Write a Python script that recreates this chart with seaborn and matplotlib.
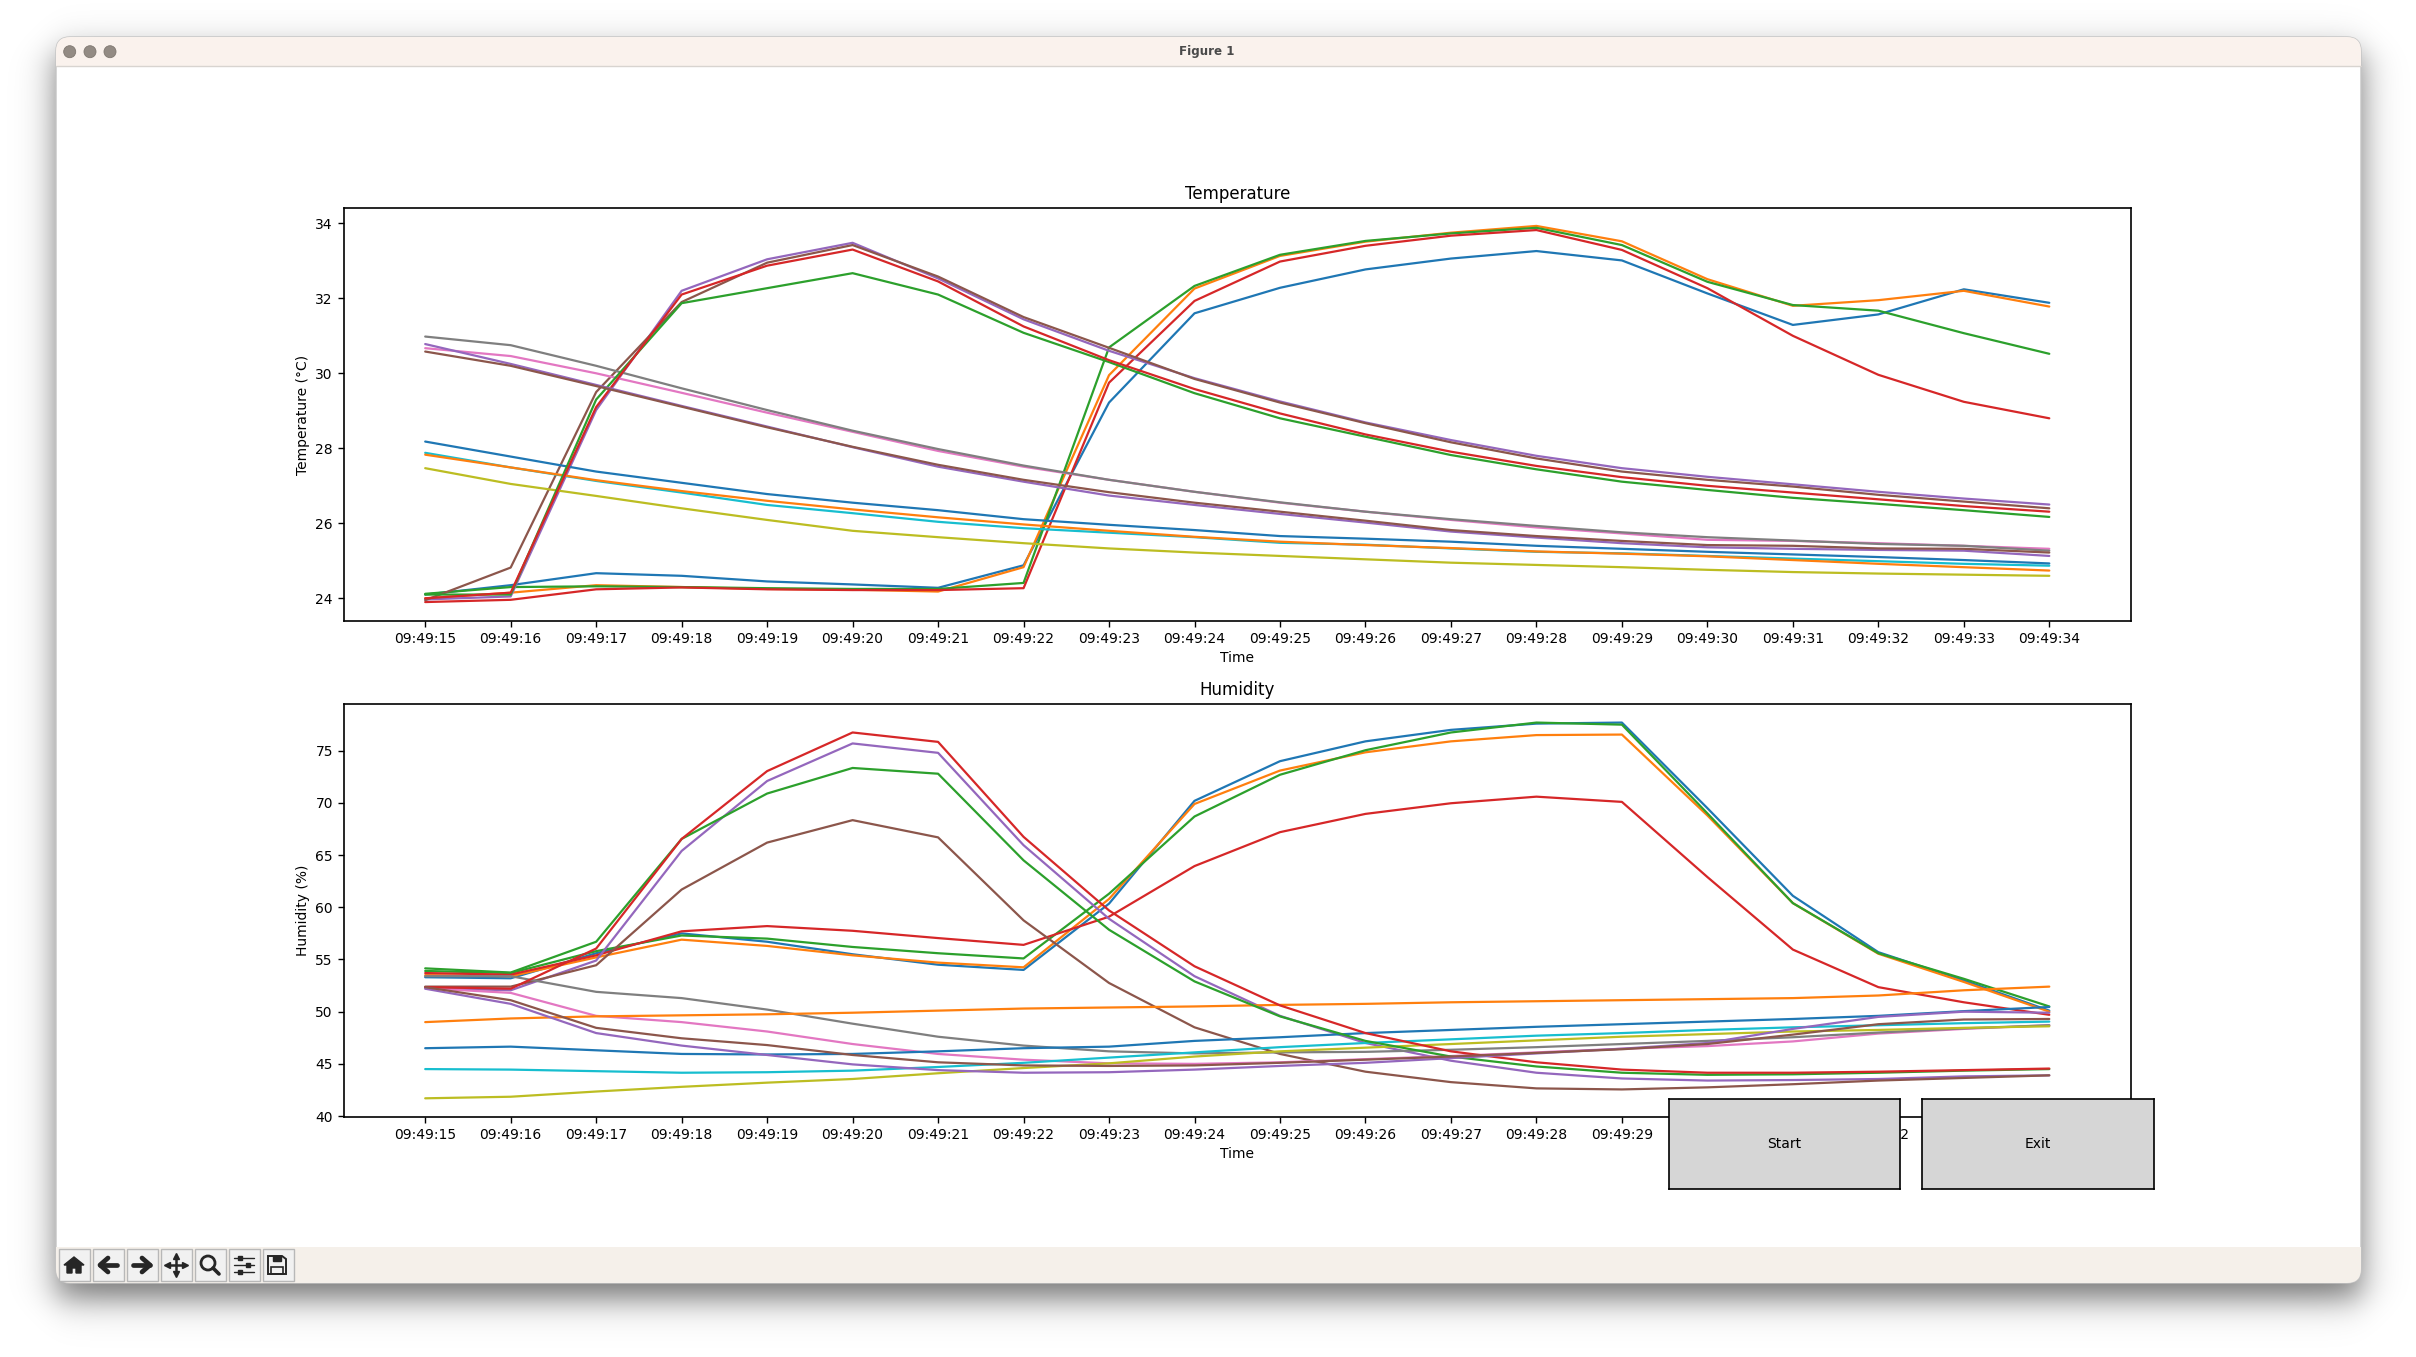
import numpy as np
import matplotlib
matplotlib.use("Agg")
import matplotlib.pyplot as plt
import seaborn as sns
from matplotlib.patches import Circle, FancyBboxPatch, Polygon, Rectangle

W, H = 2416, 1357

times = [f"09:49:{s}" for s in range(15, 35)]

# temperature, in draw order
temp_blue_late = [24.10, 24.35, 24.67, 24.60, 24.45, 24.37, 24.28, 24.88, 29.22, 31.60, 32.28, 32.77, 33.06, 33.26, 33.01, 32.13, 31.29, 31.57, 32.24, 31.88]
temp_orange_late = [24.00, 24.15, 24.35, 24.30, 24.25, 24.23, 24.18, 24.83, 29.95, 32.26, 33.13, 33.51, 33.75, 33.93, 33.52, 32.51, 31.80, 31.95, 32.20, 31.78]
temp_green_late = [24.12, 24.30, 24.32, 24.30, 24.27, 24.25, 24.25, 24.41, 30.69, 32.33, 33.16, 33.53, 33.73, 33.88, 33.42, 32.44, 31.82, 31.67, 31.07, 30.52]
temp_red_late = [23.90, 23.96, 24.24, 24.29, 24.24, 24.22, 24.22, 24.27, 29.75, 31.93, 32.98, 33.40, 33.67, 33.82, 33.29, 32.27, 31.00, 29.96, 29.24, 28.80]
temp_purple_early = [23.97, 24.05, 29.02, 32.20, 33.04, 33.48, 32.53, 31.44, 30.60, 29.87, 29.25, 28.69, 28.22, 27.80, 27.47, 27.24, 27.04, 26.84, 26.66, 26.50]
temp_brown_early = [23.95, 24.82, 29.50, 31.90, 32.95, 33.42, 32.58, 31.50, 30.68, 29.85, 29.22, 28.67, 28.16, 27.73, 27.38, 27.16, 26.98, 26.76, 26.58, 26.40]
temp_pink = [30.67, 30.46, 30.00, 29.48, 28.95, 28.44, 27.93, 27.51, 27.16, 26.84, 26.55, 26.31, 26.09, 25.89, 25.73, 25.56, 25.53, 25.47, 25.40, 25.32]
temp_gray = [30.98, 30.75, 30.20, 29.60, 29.02, 28.47, 27.98, 27.54, 27.16, 26.84, 26.56, 26.31, 26.11, 25.93, 25.76, 25.63, 25.54, 25.45, 25.40, 25.27]
temp_olive = [27.47, 27.05, 26.73, 26.40, 26.09, 25.80, 25.63, 25.47, 25.33, 25.22, 25.13, 25.04, 24.95, 24.89, 24.83, 24.76, 24.70, 24.66, 24.63, 24.60]
temp_cyan = [27.88, 27.49, 27.13, 26.82, 26.49, 26.27, 26.04, 25.87, 25.75, 25.63, 25.48, 25.43, 25.33, 25.24, 25.20, 25.13, 25.06, 24.99, 24.92, 24.87]
temp_blue_fall = [28.18, 27.78, 27.38, 27.08, 26.78, 26.55, 26.35, 26.11, 25.96, 25.82, 25.66, 25.59, 25.51, 25.40, 25.32, 25.24, 25.17, 25.10, 25.02, 24.93]
temp_orange_fall = [27.83, 27.49, 27.15, 26.86, 26.60, 26.37, 26.16, 25.97, 25.80, 25.64, 25.51, 25.42, 25.34, 25.25, 25.19, 25.12, 25.02, 24.92, 24.83, 24.74]
temp_green_early = [24.10, 24.10, 29.30, 31.87, 32.27, 32.67, 32.10, 31.08, 30.30, 29.47, 28.80, 28.31, 27.82, 27.44, 27.11, 26.89, 26.68, 26.52, 26.35, 26.17]
temp_red_early = [24.00, 24.15, 29.10, 32.10, 32.87, 33.30, 32.45, 31.25, 30.35, 29.58, 28.93, 28.37, 27.91, 27.53, 27.23, 27.00, 26.82, 26.64, 26.46, 26.31]
temp_purple_fall = [30.78, 30.25, 29.69, 29.13, 28.58, 28.03, 27.51, 27.11, 26.74, 26.49, 26.25, 26.02, 25.78, 25.62, 25.47, 25.36, 25.32, 25.29, 25.27, 25.13]
temp_brown_fall = [30.58, 30.20, 29.66, 29.11, 28.56, 28.04, 27.56, 27.16, 26.83, 26.55, 26.31, 26.07, 25.82, 25.66, 25.53, 25.42, 25.40, 25.33, 25.32, 25.22]

# humidity, in draw order
hum_blue_late = [53.3, 53.2, 55.6, 57.5, 56.7, 55.5, 54.5, 54.0, 60.35, 70.2, 74.0, 75.9, 77.0, 77.6, 77.7, 69.5, 61.1, 55.7, 53.0, 50.1]
hum_orange_late = [53.5, 53.4, 55.2, 56.9, 56.3, 55.4, 54.7, 54.25, 60.8, 69.9, 73.1, 74.85, 75.9, 76.5, 76.55, 68.8, 60.4, 55.55, 52.85, 50.0]
hum_green_late = [53.9, 53.7, 55.8, 57.3, 57.0, 56.2, 55.6, 55.1, 61.3, 68.7, 72.7, 75.05, 76.75, 77.7, 77.5, 69.0, 60.4, 55.6, 53.15, 50.5]
hum_red_late = [53.7, 53.55, 55.4, 57.7, 58.2, 57.75, 57.05, 56.4, 59.1, 63.95, 67.2, 68.95, 69.97, 70.6, 70.1, 62.9, 55.95, 52.35, 50.9, 49.7]
hum_purple_early = [52.25, 52.05, 54.9, 65.4, 72.1, 75.7, 74.8, 65.95, 58.9, 53.4, 49.6, 47.0, 45.3, 44.15, 43.6, 43.4, 43.45, 43.55, 43.8, 43.9]
hum_brown_early = [52.4, 52.4, 54.45, 61.7, 66.2, 68.35, 66.7, 58.75, 52.75, 48.5, 45.95, 44.25, 43.25, 42.65, 42.55, 42.75, 43.05, 43.4, 43.65, 43.9]
hum_pink = [52.25, 51.8, 49.6, 49.0, 48.1, 46.9, 45.95, 45.4, 45.05, 45.0, 45.15, 45.45, 45.75, 46.1, 46.45, 46.7, 47.15, 47.9, 48.35, 48.7]
hum_gray = [53.4, 53.4, 51.9, 51.3, 50.2, 48.85, 47.6, 46.75, 46.2, 46.0, 46.1, 46.15, 46.35, 46.6, 46.9, 47.2, 47.55, 48.0, 48.4, 48.7]
hum_olive = [41.7, 41.85, 42.35, 42.8, 43.2, 43.55, 44.1, 44.6, 45.05, 45.7, 46.2, 46.55, 46.9, 47.25, 47.6, 47.85, 48.1, 48.25, 48.45, 48.6]
hum_cyan = [44.5, 44.45, 44.3, 44.15, 44.2, 44.35, 44.7, 45.1, 45.6, 46.1, 46.6, 47.0, 47.35, 47.7, 47.95, 48.25, 48.5, 48.7, 48.9, 49.05]
hum_blue_flat = [46.5, 46.65, 46.3, 45.95, 45.9, 45.95, 46.2, 46.5, 46.65, 47.2, 47.55, 47.95, 48.25, 48.55, 48.8, 49.05, 49.3, 49.6, 50.05, 50.45]
hum_orange_flat = [49.0, 49.35, 49.55, 49.65, 49.75, 49.9, 50.1, 50.3, 50.4, 50.5, 50.65, 50.75, 50.9, 51.0, 51.1, 51.2, 51.3, 51.55, 52.05, 52.4]
hum_green_early = [54.15, 53.75, 56.7, 66.55, 70.9, 73.35, 72.8, 64.5, 57.85, 52.9, 49.55, 47.2, 45.7, 44.75, 44.15, 43.95, 44.0, 44.15, 44.35, 44.5]
hum_red_early = [52.35, 52.2, 56.05, 66.55, 73.05, 76.75, 75.85, 66.75, 59.7, 54.35, 50.6, 47.95, 46.2, 45.15, 44.45, 44.15, 44.15, 44.25, 44.4, 44.55]
hum_purple_fall = [52.2, 50.75, 47.95, 46.75, 45.85, 44.95, 44.4, 44.15, 44.2, 44.45, 44.8, 45.1, 45.55, 46.0, 46.45, 47.0, 48.35, 49.5, 50.0, 49.9]
hum_brown_fall = [52.35, 51.1, 48.45, 47.45, 46.8, 45.85, 45.15, 44.85, 44.8, 44.85, 45.1, 45.4, 45.7, 46.05, 46.4, 46.9, 47.8, 48.8, 49.25, 49.3]

temp_series = [temp_blue_late, temp_orange_late, temp_green_late, temp_red_late,
               temp_purple_early, temp_brown_early, temp_pink, temp_gray, temp_olive, temp_cyan,
               temp_blue_fall, temp_orange_fall, temp_green_early, temp_red_early,
               temp_purple_fall, temp_brown_fall]
hum_series = [hum_blue_late, hum_orange_late, hum_green_late, hum_red_late,
              hum_purple_early, hum_brown_early, hum_pink, hum_gray, hum_olive, hum_cyan,
              hum_blue_flat, hum_orange_flat, hum_green_early, hum_red_early,
              hum_purple_fall, hum_brown_fall]

sns.set_theme(style="ticks", rc={"axes.linewidth": 1.2, "xtick.major.width": 1.0, "ytick.major.width": 1.0,
                                 "xtick.major.size": 4.5, "ytick.major.size": 4.5})
plt.rcParams["font.family"] = ["DejaVu Sans"]
plt.rcParams["text.color"] = "black"
plt.rcParams["axes.labelcolor"] = "black"
plt.rcParams["xtick.color"] = "black"
plt.rcParams["ytick.color"] = "black"
plt.rcParams["axes.edgecolor"] = "black"

palette = sns.color_palette("tab10")
fig = plt.figure(figsize=(W / 100, H / 100), dpi=100, facecolor="white")


def pixel_axes(x0, y0, x1, y1, **kw):
    return fig.add_axes([x0 / W, 1 - y1 / H, (x1 - x0) / W, (y1 - y0) / H], **kw)


# window chrome, in pixel coordinates
chrome = pixel_axes(0, 0, W, H, zorder=-1)
chrome.set_xlim(0, W)
chrome.set_ylim(H, 0)
chrome.axis("off")

win_l, win_r, win_t, win_b = 56, 2361, 37, 1283


def soft(d):
    return 0.5 * (1 + np.tanh(d / 20))


gx, gy = np.meshgrid(np.arange(W), np.arange(H))
shadow = 0.55 * soft(gx - win_l) * soft(win_r - gx) * soft(gy - win_t - 15) * soft(win_b + 15 - gy)
shadow_rgba = np.zeros((H, W, 4))
shadow_rgba[..., 3] = shadow
chrome.imshow(shadow_rgba, extent=[0, W, H, 0], aspect="auto", zorder=0)
chrome.set_xlim(0, W)
chrome.set_ylim(H, 0)

window = FancyBboxPatch((win_l, win_t), win_r - win_l, win_b - win_t,
                        boxstyle="round,pad=0,rounding_size=14", fc="white", ec="#c4c4c4", lw=1, zorder=1)
chrome.add_patch(window)
titlebar = Rectangle((win_l, win_t), win_r - win_l, 29, fc="#faf2ed", ec="none", zorder=2)
toolbar = Rectangle((win_l, 1247), win_r - win_l, 36, fc="#f5f0ea", ec="none", zorder=2)
for band in (titlebar, toolbar):
    chrome.add_patch(band)
    band.set_clip_path(window)
chrome.plot([win_l, win_r], [66, 66], color="#d8d4d0", lw=1, zorder=3)
for cx in (69.7, 90, 110):
    chrome.add_patch(Circle((cx, 51.7), 6, fc="#938b84", ec="#7f7871", lw=0.6, zorder=3))
chrome.text(1207, 52, "Figure 1", ha="center", va="center", fontsize=8.6, fontweight="bold", color="#4a4a4a", zorder=3)

ink = "#262626"
for i in range(7):
    bx = 74 + 34 * i
    chrome.add_patch(Rectangle((bx - 15.5, 1249), 31, 31.5, fc="#f1f1f1", ec="#b8b8b8", lw=1, zorder=3))
by = 1265
# home
chrome.add_patch(Polygon([(74 - 10, by), (74, by - 8), (74 + 10, by), (74 + 7, by), (74 + 7, by + 8), (74 + 2, by + 8),
                          (74 + 2, by + 3), (74 - 2, by + 3), (74 - 2, by + 8), (74 - 7, by + 8), (74 - 7, by)],
                         fc=ink, ec=ink, zorder=4))
# back and forward
chrome.plot([108 - 8, 108 + 9], [by, by], color=ink, lw=3.4, zorder=4, solid_capstyle="round")
chrome.plot([108, 108 - 8, 108], [by - 7, by, by + 7], color=ink, lw=3.4, zorder=4)
chrome.plot([142 - 9, 142 + 8], [by, by], color=ink, lw=3.4, zorder=4, solid_capstyle="round")
chrome.plot([142, 142 + 8, 142], [by - 7, by, by + 7], color=ink, lw=3.4, zorder=4)
# move
chrome.plot([176 - 9, 176 + 9], [by, by], color=ink, lw=1.8, zorder=4)
chrome.plot([176, 176], [by - 9, by + 9], color=ink, lw=1.8, zorder=4)
for dx, dy, marker in ((-9, 0, "<"), (9, 0, ">"), (0, -9, "^"), (0, 9, "v")):
    chrome.plot([176 + dx], [by + dy], marker=marker, ms=5, color=ink, zorder=4)
# zoom
chrome.add_patch(Circle((208, by - 2), 7, fc="none", ec=ink, lw=2, zorder=4))
chrome.plot([213, 219], [by + 3, by + 9], color=ink, lw=2.6, zorder=4)
# sliders
for dy, dx in ((-7, -4), (0, 4), (7, -4)):
    chrome.plot([244 - 10, 244 + 10], [by + dy, by + dy], color=ink, lw=1, zorder=4)
    chrome.plot([244 + dx], [by + dy], marker="s", ms=3.5, color=ink, zorder=4)
# save
chrome.add_patch(Polygon([(268, by - 9), (282, by - 9), (286, by - 6), (286, by + 9), (268, by + 9)],
                         fc="none", ec=ink, lw=1.4, zorder=4))
chrome.add_patch(Rectangle((273, by - 9), 8, 5, fc=ink, ec=ink, zorder=4))
chrome.add_patch(Rectangle((271, by + 2), 12, 7, fc="none", ec=ink, lw=1.2, zorder=4))

# plots
ax_temp = pixel_axes(344, 208.3, 2130.5, 621.3, zorder=1)
ax_hum = pixel_axes(344, 704.3, 2130.5, 1117.3, zorder=1)

for i, values in enumerate(temp_series):
    sns.lineplot(x=times, y=values, ax=ax_temp, color=palette[i % 10], linewidth=1.6, errorbar=None, sort=False)
for i, values in enumerate(hum_series):
    sns.lineplot(x=times, y=values, ax=ax_hum, color=palette[i % 10], linewidth=1.6, errorbar=None, sort=False)

ax_temp.set_ylim(23.387, 34.4)
ax_hum.set_ylim(39.88, 79.45)

ax_temp.set_title("Temperature", fontsize=12, pad=7)
ax_temp.set_xlabel("Time", fontsize=10, labelpad=3)
ax_temp.set_ylabel("Temperature (°C)", fontsize=10)
ax_hum.set_title("Humidity", fontsize=12, pad=7)
ax_hum.set_xlabel("Time", fontsize=10, labelpad=3)
ax_hum.set_ylabel("Humidity (%)", fontsize=10)
for ax in (ax_temp, ax_hum):
    ax.tick_params(labelsize=10)

# buttons sit on top of the lower plot
for label, x0, x1 in (("Start", 1669, 1899.6), ("Exit", 1922.4, 2154)):
    btn = pixel_axes(x0, 1099.3, x1, 1188.7, zorder=5, facecolor="#d6d6d6")
    btn.set_xticks([])
    btn.set_yticks([])
    btn.text(0.5, 0.5, label, transform=btn.transAxes, ha="center", va="center", fontsize=10)

fig.savefig("out.png", dpi=100)
